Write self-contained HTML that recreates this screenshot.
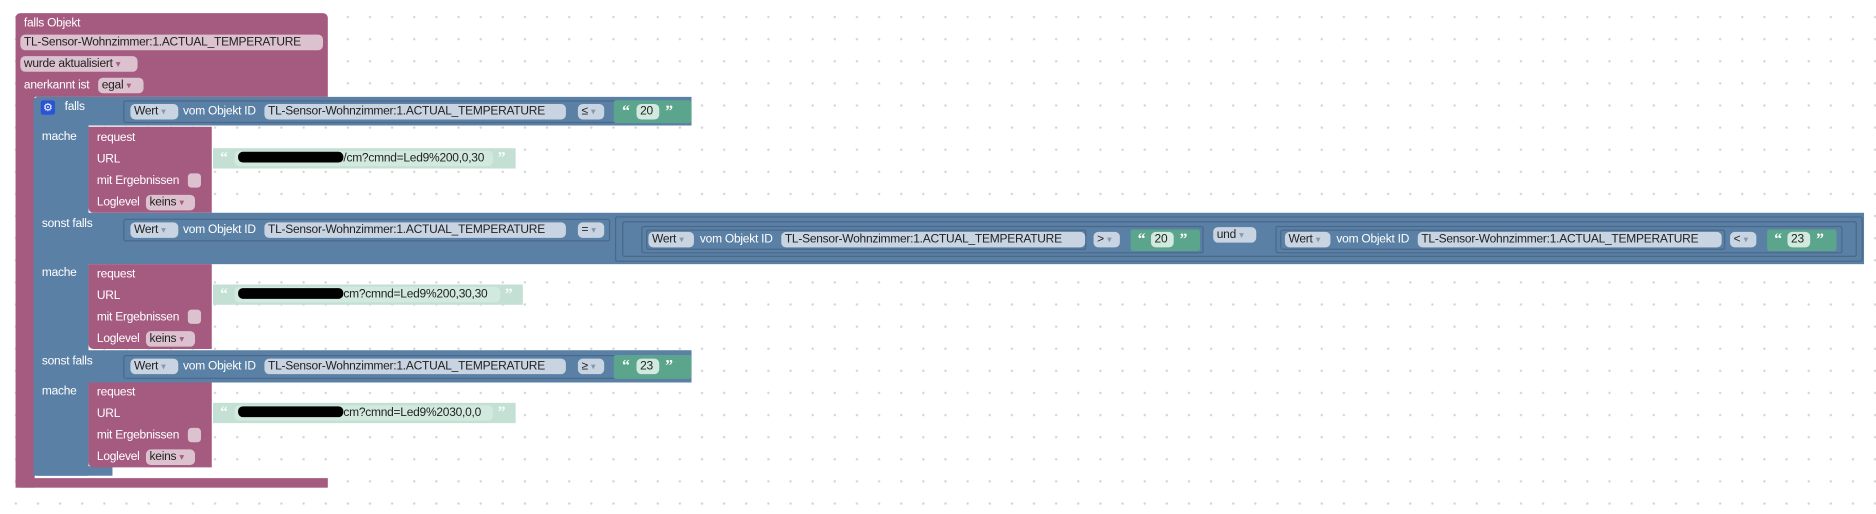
<!DOCTYPE html>
<html><head><meta charset="utf-8"><style>
html,body{margin:0;padding:0;width:1876px;height:514px;overflow:hidden;background:#fff}
#w{position:absolute;left:0;top:0;width:1568px;height:430px;transform-origin:0 0;transform:scale(1.19643,1.1953);
background-image:radial-gradient(circle,#d4d4d4 0.8px,transparent 1.2px);background-size:18.5px 18.5px;background-position:4px 5px}
div{position:absolute;box-sizing:border-box}
.p{background:#a55b80}
.b{background:#5b80a5}
.g{background:#5ba58c;border-radius:2px}
.t{color:#fff;font:10px/13px "Liberation Sans",sans-serif;letter-spacing:-0.2px;white-space:nowrap}
.pl{border-radius:4px;font:10px/13px "Liberation Sans",sans-serif;letter-spacing:-0.2px;color:#222;white-space:nowrap;padding:0 3px;height:13px;overflow:hidden}
.pp{background:#dcc1cf}
.pb{background:#c8d4e2}
.pg{background:#d2e9df}
.o{border:1px solid rgba(40,60,90,.35);border-radius:2px}
.s{background:#c4e0d4}
.cb{width:11px;height:12px;background:#dcc1cf;border-radius:3px}
.dd{color:#8899aa;font-size:8px}
.q{font-family:"Liberation Serif",serif;font-size:13px;font-weight:bold}
</style></head><body><div id="w">
<!-- outer pink -->
<div class="p" style="left:13px;top:11px;width:261px;height:70px;border-radius:4px 4px 0 0"></div>
<div class="p" style="left:13px;top:80px;width:16px;height:328px;border-radius:0 0 0 4px"></div>
<div class="p" style="left:13px;top:400px;width:261px;height:8px"></div>
<div class="t" style="left:20px;top:13px">falls Objekt</div>
<div class="pl pp" style="left:17px;top:29px;width:253px">TL-Sensor-Wohnzimmer:1.ACTUAL_TEMPERATURE</div>
<div class="pl pp" style="left:17px;top:47px;width:98px">wurde aktualisiert <span style="color:#a55b80;font-size:8px">▾</span></div>
<div class="t" style="left:20px;top:65px">anerkannt ist</div>
<div class="pl pp" style="left:82px;top:65px;width:38px">egal <span style="color:#a55b80;font-size:8px">▾</span></div>
<!-- blue if -->
<div class="b" style="left:28px;top:81px;width:46px;height:317px;border-radius:4px 0 0 4px"></div>
<div class="b" style="left:28px;top:390px;width:66px;height:8px"></div>
<div class="b" style="left:28px;top:81px;width:550px;height:24px;border-radius:4px 0 0 0"></div>
<div class="b" style="left:28px;top:178px;width:1530px;height:43px"></div>
<div class="b" style="left:28px;top:293px;width:550px;height:27px"></div>
<div style="left:34px;top:84px;width:12px;height:12px;background:#2a54d8;border-radius:2px;color:#fff;font:9px/12px sans-serif;text-align:center">⚙</div>
<div class="t" style="left:54px;top:83px">falls</div>
<div class="t" style="left:35px;top:108px">mache</div>
<div class="t" style="left:35px;top:181px">sonst falls</div>
<div class="t" style="left:35px;top:222px">mache</div>
<div class="t" style="left:35px;top:296px">sonst falls</div>
<div class="t" style="left:35px;top:321px">mache</div>
<!-- row1 -->
<div class="o" style="left:103px;top:84px;width:412px;height:19px"></div>
<div class="pl pb" style="left:109px;top:87px;width:40px">Wert <span class="dd">▾</span></div>
<div class="t" style="left:153px;top:87px">vom Objekt ID</div>
<div class="pl pb" style="left:221px;top:87px;width:252px">TL-Sensor-Wohnzimmer:1.ACTUAL_TEMPERATURE</div>
<div class="pl pb" style="left:483px;top:87px;width:22px">≤ <span class="dd">▾</span></div>
<div class="g" style="left:513px;top:84px;width:65px;height:19px"></div>
<div class="t q" style="left:520px;top:86px">“</div>
<div class="pl pg" style="left:532px;top:87px;width:19px">20</div>
<div class="t q" style="left:556px;top:86px">”</div>
<!-- row2 -->
<div class="o" style="left:103px;top:183px;width:407px;height:19px"></div>
<div class="pl pb" style="left:109px;top:186px;width:40px">Wert <span class="dd">▾</span></div>
<div class="t" style="left:153px;top:186px">vom Objekt ID</div>
<div class="pl pb" style="left:221px;top:186px;width:252px">TL-Sensor-Wohnzimmer:1.ACTUAL_TEMPERATURE</div>
<div class="pl pb" style="left:483px;top:186px;width:22px">= <span class="dd">▾</span></div>
<div class="o" style="left:514px;top:181px;width:1043px;height:38px"></div>
<div class="o" style="left:520px;top:185px;width:1032px;height:30px"></div>
<div class="o" style="left:536px;top:189px;width:470px;height:23px"></div>
<div class="o" style="left:540px;top:192px;width:368px;height:17px"></div>
<div class="pl pb" style="left:542px;top:194px;width:38px">Wert <span class="dd">▾</span></div>
<div class="t" style="left:585px;top:194px">vom Objekt ID</div>
<div class="pl pb" style="left:653px;top:194px;width:254px">TL-Sensor-Wohnzimmer:1.ACTUAL_TEMPERATURE</div>
<div class="pl pb" style="left:914px;top:194px;width:22px">&gt; <span class="dd">▾</span></div>
<div class="g" style="left:945px;top:192px;width:58px;height:18px"></div>
<div class="t q" style="left:951px;top:193px">“</div>
<div class="pl pg" style="left:962px;top:194px;width:19px">20</div>
<div class="t q" style="left:986px;top:193px">”</div>
<div class="pl pb" style="left:1014px;top:190px;width:36px">und <span class="dd">▾</span></div>
<div class="o" style="left:1066px;top:189px;width:474px;height:23px"></div>
<div class="o" style="left:1070px;top:192px;width:372px;height:17px"></div>
<div class="pl pb" style="left:1074px;top:194px;width:38px">Wert <span class="dd">▾</span></div>
<div class="t" style="left:1117px;top:194px">vom Objekt ID</div>
<div class="pl pb" style="left:1185px;top:194px;width:254px">TL-Sensor-Wohnzimmer:1.ACTUAL_TEMPERATURE</div>
<div class="pl pb" style="left:1446px;top:194px;width:22px">&lt; <span class="dd">▾</span></div>
<div class="g" style="left:1477px;top:192px;width:58px;height:18px"></div>
<div class="t q" style="left:1483px;top:193px">“</div>
<div class="pl pg" style="left:1494px;top:194px;width:19px">23</div>
<div class="t q" style="left:1518px;top:193px">”</div>
<!-- row3 -->
<div class="o" style="left:103px;top:297px;width:412px;height:20px"></div>
<div class="pl pb" style="left:109px;top:300px;width:40px">Wert <span class="dd">▾</span></div>
<div class="t" style="left:153px;top:300px">vom Objekt ID</div>
<div class="pl pb" style="left:221px;top:300px;width:252px">TL-Sensor-Wohnzimmer:1.ACTUAL_TEMPERATURE</div>
<div class="pl pb" style="left:483px;top:300px;width:22px">≥ <span class="dd">▾</span></div>
<div class="g" style="left:513px;top:297px;width:65px;height:20px"></div>
<div class="t q" style="left:520px;top:299px">“</div>
<div class="pl pg" style="left:532px;top:300px;width:19px">23</div>
<div class="t q" style="left:556px;top:299px">”</div>
<!-- request blocks -->
<div class="p" style="left:74px;top:106px;width:103px;height:72px;border-radius:0 0 0 4px"></div>
<div class="t" style="left:81px;top:109px">request</div><div class="t" style="left:81px;top:127px">URL</div>
<div class="t" style="left:81px;top:145px">mit Ergebnissen</div><div class="cb" style="left:157px;top:145px"></div>
<div class="t" style="left:81px;top:163px">Loglevel</div><div class="pl pp" style="left:122px;top:163px;width:41px">keins <span style="color:#a55b80;font-size:8px">▾</span></div>
<div class="s" style="left:178px;top:124px;width:253px;height:17px"></div>
<div class="t q" style="left:184px;top:125px;color:#f4fffa">“</div>
<div class="pl pg" style="left:196px;top:126px;width:216px"><span style="display:inline-block;width:88px;height:9px;background:#000;border-radius:4px;vertical-align:-1px"></span>/cm?cmnd=Led9%200,0,30</div>
<div class="t q" style="left:416px;top:125px;color:#f4fffa">”</div>

<div class="p" style="left:74px;top:221px;width:103px;height:71px;border-radius:0 0 0 4px"></div>
<div class="t" style="left:81px;top:223px">request</div><div class="t" style="left:81px;top:241px">URL</div>
<div class="t" style="left:81px;top:259px">mit Ergebnissen</div><div class="cb" style="left:157px;top:259px"></div>
<div class="t" style="left:81px;top:277px">Loglevel</div><div class="pl pp" style="left:122px;top:277px;width:41px">keins <span style="color:#a55b80;font-size:8px">▾</span></div>
<div class="s" style="left:178px;top:238px;width:259px;height:17px"></div>
<div class="t q" style="left:184px;top:239px;color:#f4fffa">“</div>
<div class="pl pg" style="left:196px;top:240px;width:222px"><span style="display:inline-block;width:88px;height:9px;background:#000;border-radius:4px;vertical-align:-1px"></span>cm?cmnd=Led9%200,30,30</div>
<div class="t q" style="left:422px;top:239px;color:#f4fffa">”</div>

<div class="p" style="left:74px;top:320px;width:103px;height:71px;border-radius:0 0 0 4px"></div>
<div class="t" style="left:81px;top:322px">request</div><div class="t" style="left:81px;top:340px">URL</div>
<div class="t" style="left:81px;top:358px">mit Ergebnissen</div><div class="cb" style="left:157px;top:358px"></div>
<div class="t" style="left:81px;top:376px">Loglevel</div><div class="pl pp" style="left:122px;top:376px;width:41px">keins <span style="color:#a55b80;font-size:8px">▾</span></div>
<div class="s" style="left:178px;top:337px;width:253px;height:17px"></div>
<div class="t q" style="left:184px;top:338px;color:#f4fffa">“</div>
<div class="pl pg" style="left:196px;top:339px;width:216px"><span style="display:inline-block;width:88px;height:9px;background:#000;border-radius:4px;vertical-align:-1px"></span>cm?cmnd=Led9%2030,0,0</div>
<div class="t q" style="left:416px;top:338px;color:#f4fffa">”</div>
</div></body></html>
